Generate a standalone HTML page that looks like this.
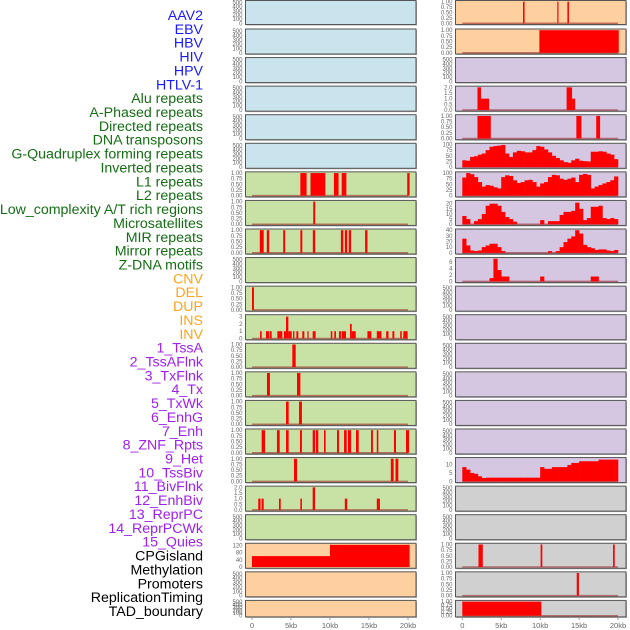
<!DOCTYPE html>
<html><head><meta charset="utf-8">
<style>
html,body{margin:0;padding:0;background:#fff;}
svg{display:block;font-family:"Liberation Sans",sans-serif;}
</style></head>
<body>
<svg id="chart" width="630" height="630" viewBox="0 0 630 630"></svg>
<script>
const trackLabels=["AAV2","EBV","HBV","HIV","HPV","HTLV-1","Alu repeats","A-Phased repeats","Directed repeats","DNA transposons","G-Quadruplex forming repeats","Inverted repeats","L1 repeats","L2 repeats","Low_complexity A/T rich regions","Microsatellites","MIR repeats","Mirror repeats","Z-DNA motifs","CNV","DEL","DUP","INS","INV","1_TssA","2_TssAFlnk","3_TxFlnk","4_Tx","5_TxWk","6_EnhG","7_Enh","8_ZNF_Rpts","9_Het","10_TssBiv","11_BivFlnk","12_EnhBiv","13_ReprPC","14_ReprPCWk","15_Quies","CPGisland","Methylation","Promoters","ReplicationTiming","TAD_boundary"];
const labelGroups=["v","v","v","v","v","v","r","r","r","r","r","r","r","r","r","r","r","r","r","s","s","s","s","s","c","c","c","c","c","c","c","c","c","c","c","c","c","c","c","o","o","o","o","o"];
const xTickLabels=["0","5kb","10kb","15kb","20kb"];
const xTickValues=[0,5,10,15,20];

const L6=[[6.2,7.0,1],[7.5,9.4,1],[10.5,11.1,1],[11.5,12.1,1],[19.9,20.2,1]];
const L7=[[7.85,8.1,1]];
const L8=[[1.0,1.5,1],[1.9,2.2,1],[4.0,4.25,1],[6.2,6.45,1],[7.8,8.1,1],[11.4,11.7,1],[11.9,12.2,1],[12.4,12.7,1],[14.5,14.8,1]];
const L10=[[0,0.25,1]];
const L11=[[1.03,1.24,1],[1.79,2.22,1],[2.31,2.52,1],[3.25,3.89,1],[4.1,4.36,1],[4.36,4.66,3],[4.66,5.09,1],[5.26,5.43,1],[5.69,5.94,1],[6.45,6.71,1],[7.1,7.2,1],[7.78,8.16,1],[10.1,10.3,1],[10.55,10.77,1],[11.15,11.4,1],[11.5,12.05,1],[12.56,12.78,2],[12.78,13.3,1],[14.8,15.3,1],[16.0,16.6,1],[17.2,17.5,1],[18.0,18.25,1],[19.0,19.2,1],[19.4,19.95,1]];
const L12=[[5.17,5.6,1]];
const L13=[[1.92,2.3,1],[5.77,6.2,1]];
const L14=[[4.36,4.7,1],[6.03,6.4,1]];
const L15=[[1.24,1.67,1],[3.2,3.55,1],[4.36,4.7,1],[6.15,6.4,1],[7.78,8.08,1],[8.2,8.5,1],[9.23,9.44,1],[10.9,11.15,1],[11.8,12.14,1],[12.3,12.7,1],[13.33,13.68,1],[15.26,15.5,1],[16.0,16.2,1],[18.2,18.46,1],[19.74,20.13,1]];
const L16=[[5.38,5.77,1],[17.8,18.16,1],[18.4,18.76,1]];
const L17=[[0.8,1.1,1],[1.24,1.5,1],[3.46,3.68,1],[6.2,6.4,1],[7.78,8.08,2],[11.9,12.2,1],[16.0,16.4,1]];
const L19=[[0,10,61],[10,20.2,124]];
const R0=[[7.8,8.0,1],[12.2,12.35,1],[13.5,13.7,1]];
const R1=[[9.9,20.1,1]];
const R3=[[1.95,2.4,2],[2.4,3.44,1],[13.4,14.1,2],[14.1,14.5,1]];
const R4=[[1.95,3.66,1],[14.65,15.3,1],[17.2,17.7,1]];
const R19=[[2.08,2.63,1],[10.06,10.28,1],[19.36,19.58,1]];
const R20=[[14.7,14.98,1]];
const R21=[[0,10.15,1]];
const R5=[30,28,45,48,55,60,75,90,93,95,98,60,45,65,72,70,65,65,75,93,90,78,65,50,40,30,22,19,30,37,28,26,25,68,68,70,68,60,55,35];
const R6=[80,100,95,82,60,40,47,44,37,32,82,90,87,68,56,60,68,70,60,40,54,60,82,92,90,75,70,75,80,60,92,96,92,32,40,47,54,60,68,85];
const R7=[8,5,0,3,5,10,18,20,20,18,12,7,5,2.5,0,0,0,0,0,0,4,0,3,3,3,9,12,12,13,21,15,4,6,17,17,18,6,5,6,5];
const R8=[25,13,4,3,4,10,13,16,16,10,3,0,0,0,0,0,0,0,0,0,0,0,3,0,3,10,19,25,29,40,34,14,10,8,5,6,6,4,3,5];
const R9=[0,0,0,0,0,0,0,1,7,3.5,1.5,1.5,0,0,0,0,0,0,0,0,1.5,0,0,0,0,0,0,0,0,0,0,0,0,1.5,1.5,0,0,0,0,0];
const R16=[8.5,7,5,4.5,3,2,2.2,2.2,2.2,2.2,2.2,2.2,2.2,2.2,2.2,2.2,2.2,2.2,2.2,2.2,8.5,7.5,7.5,8.5,8.5,8.5,8.5,9.8,11,11,12,12,12,12,12,13,13,13,13,13];

const T500=["0","100","200","300","400","500"], V500=[0,100,200,300,400,500];
const T1=["0.00","0.25","0.50","0.75","1.00"], V1=[0,0.25,0.5,0.75,1];
const T2=["0.0","0.5","1.0","1.5","2.0"], V2=[0,0.5,1,1.5,2];

const NS="http://www.w3.org/2000/svg";
const svg=document.getElementById("chart");
function mk(tag,attrs,parent){const e=document.createElementNS(NS,tag);for(const k in attrs)e.setAttribute(k,attrs[k]);(parent||svg).appendChild(e);return e;}

const colors={v:"#1a1aff",r:"#146e14",s:"#ffa31a",c:"#a020f0",o:"#000000"};
trackLabels.forEach((t,i)=>{
  const e=mk("text",{x:203,y:15+i*13.86+5,"text-anchor":"end","font-size":"14.2",fill:colors[labelGroups[i]]});
  e.textContent=t;
  
  
});

const BG={b:"#c9e4ec",g:"#c8e1a5",o:"#fed09f",p:"#d5c6e2",y:"#d0d0d0"};
function rowTop(i){return i===0?0.5:29+28.57*(i-1);}
function rowH(i){return i===21?16.5:(i===0?24:25);}

function panel(col,i,bg,ymax,tickLabels,tickVals,events,profile,baseline){
  const left=col===0?245.5:455.5, right=col===0?416:626;
  const x0=col===0?252:462.3, x1=col===0?408:618;
  const xs=kb=>x0+(x1-x0)*kb/20;
  const top=rowTop(i), h=rowH(i);
  const yb=top+h-1.2, yt=top+1.2;
  const ys=v=>yb-(yb-yt)*v/ymax;
  const g=mk("g",{});
  
  
  mk("rect",{x:left+1,y:top+1,width:right-left,height:h,fill:"#aaa"},g);
  const r=mk("rect",{x:left,y:top,width:right-left,height:h,fill:BG[bg],stroke:"#555","stroke-width":"1"},g);
  
  
  if(baseline){const bl=mk("line",{x1:xs(0),x2:xs(20),y1:yb,y2:yb,stroke:"rgba(150,30,30,0.55)","stroke-width":"1.5"},g);
    
    }
  (events||[]).forEach(ev=>{
    const b=mk("rect",{x:xs(ev[0]),y:ys(ev[2]),width:Math.max(1.2,xs(ev[1])-xs(ev[0])),height:yb-ys(ev[2]),fill:"#ff0000"},g);
    
    
  });
  if(profile){profile.forEach((v,k)=>{ if(v<=0)return;
    const b=mk("rect",{x:xs(k*0.5),y:ys(v),width:xs((k+1)*0.5)-xs(k*0.5)+0.3,height:yb-ys(v),fill:"#ff0000"},g);
    
    
  });}
  tickVals.forEach((v,k)=>{
    const t=mk("text",{x:left-3,y:ys(v)+2,"text-anchor":"end","font-size":"6",fill:"#666"},g);
    t.textContent=tickLabels[k];
    
    
  });
}

for(let i=0;i<22;i++){
  let bg=i<6?"b":(i<19?"g":"o");
  const map={6:[L6,1,T1,V1],7:[L7,1,T1,V1],8:[L8,1,T1,V1],10:[L10,1,T1,V1],11:[L11,3.1,["0","1","2","3"],[0,1,2,3]],12:[L12,1,T1,V1],13:[L13,1,T1,V1],14:[L14,1,T1,V1],15:[L15,1,T1,V1],16:[L16,1,T1,V1],17:[L17,2,T2,V2],19:[L19,126,["0","40","80","120"],[0,40,80,120]]};
  if(map[i]){const m=map[i];panel(0,i,bg,m[1],m[2],m[3],m[0],null,i!==19);}
  else panel(0,i,bg,520,T500,V500,null,null,false);
}
for(let i=0;i<22;i++){
  let bg=i<2?"o":(i<17?"p":"y");
  const ev={0:R0,1:R1,4:R4,19:R19,20:R20,21:R21};
  const pr={5:[R5,100,["0","25","50","75","100"],[0,25,50,75,100]],6:[R6,100,["0","25","50","75","100"],[0,25,50,75,100]],7:[R7,22,["0","5","10","15","20"],[0,5,10,15,20]],8:[R8,40,["0","10","20","30","40"],[0,10,20,30,40]],9:[R9,7,["0","2","4","6"],[0,2,4,6]],16:[R16,13.5,["0","5","10"],[0,5,10]]};
  if(i===3)panel(1,i,bg,2,T2,V2,R3,null,true);
  else if(ev[i])panel(1,i,bg,1,T1,V1,ev[i],null,true);
  else if(pr[i]){const p=pr[i];panel(1,i,bg,p[1],p[2],p[3],null,p[0],true);}
  else panel(1,i,bg,520,T500,V500,null,null,false);
}
[[252,408],[462.3,618]].forEach((c,ci)=>{
  xTickValues.forEach((v,k)=>{
    const x=c[0]+(c[1]-c[0])*v/20;
    mk("line",{x1:x,x2:x,y1:618,y2:620,stroke:"#888","stroke-width":"0.8"});
    const t=mk("text",{x:x,y:628,"text-anchor":"middle","font-size":"7.5",fill:"#666"});
    t.textContent=xTickLabels[k];
    
    
  });
});
</script>
</body></html>
